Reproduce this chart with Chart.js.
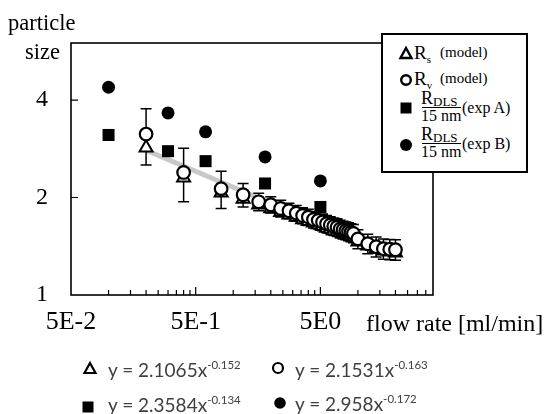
<!DOCTYPE html>
<html>
<head>
<meta charset="utf-8">
<script src="https://cdn.jsdelivr.net/npm/chart.js@4.4.1/dist/chart.umd.min.js"></script>
<style>
  html, body { margin: 0; padding: 0; background: #fff; }
  #wrap { position: relative; width: 547px; height: 414px; overflow: hidden; }
  .serif { position: absolute; font-family: 'Liberation Serif', 'Times New Roman', serif; color: #000; line-height: 1; white-space: nowrap; transform: translateY(-50%); }
  .eq { position: absolute; font-family: Lato, 'Open Sans', sans-serif; color: #404040; font-size: 19px; line-height: 1; white-space: nowrap; transform: translateY(-50%); }
  .eq sup { font-size: 11.5px; vertical-align: 0; position: relative; top: -8px; }
  .mk { position: absolute; overflow: visible; }
  #legendBox { position: absolute; left: 381px; top: 33px; width: 143px; height: 136px; border: 2px solid #000; background: #fff; }
  .fracline { position: absolute; height: 0; border-top: 1.3px solid #000; }
</style>
</head>
<body>
<div id="wrap">
  <canvas id="chart"></canvas>

  <!-- titles -->
  <div class="serif" style="left:8px;top:23px;font-size:22.5px">particle</div>
  <div class="serif" style="left:25px;top:52px;font-size:22.5px">size</div>
  <div class="serif" style="left:366px;top:323px;font-size:24px">flow rate [ml/min]</div>

  <!-- legend -->
  <div id="legendBox"></div>
  <svg class="mk" style="left:399px;top:46px" width="14" height="14"><polygon points="7,2 12.5,12 1.5,12" fill="#fff" stroke="#000" stroke-width="2.4"/></svg>
  <div class="serif" style="left:414px;top:52px;font-size:19px">R<span style="font-size:11px;position:relative;top:4px">s</span></div>
  <div class="serif" style="left:440px;top:52px;font-size:15px">(model)</div>

  <svg class="mk" style="left:399px;top:73px" width="14" height="14"><circle cx="7" cy="7" r="4.8" fill="#fff" stroke="#000" stroke-width="2.4"/></svg>
  <div class="serif" style="left:414px;top:78px;font-size:19px">R<span style="font-size:11px;position:relative;top:4px">v</span></div>
  <div class="serif" style="left:440px;top:78px;font-size:15px">(model)</div>

  <svg class="mk" style="left:400px;top:102px" width="12" height="12"><rect x="0.5" y="0.5" width="11" height="11" fill="#000"/></svg>
  <div class="serif" style="left:421px;top:98px;font-size:18px">R<span style="font-size:13px;position:relative;top:2px">DLS</span></div>
  <div class="fracline" style="left:422px;top:107px;width:39px"></div>
  <div class="serif" style="left:421px;top:116px;font-size:16px">15 nm</div>
  <div class="serif" style="left:462px;top:108px;font-size:16px">(exp A)</div>

  <svg class="mk" style="left:399px;top:138px" width="14" height="14"><circle cx="7" cy="7" r="6" fill="#000"/></svg>
  <div class="serif" style="left:421px;top:134px;font-size:18px">R<span style="font-size:13px;position:relative;top:2px">DLS</span></div>
  <div class="fracline" style="left:422px;top:143px;width:39px"></div>
  <div class="serif" style="left:421px;top:152px;font-size:16px">15 nm</div>
  <div class="serif" style="left:462px;top:144px;font-size:16px">(exp B)</div>

  <!-- fit equations -->
  <svg class="mk" style="left:83px;top:361px" width="14" height="14"><polygon points="7,2 12.5,12 1.5,12" fill="#fff" stroke="#000" stroke-width="2.2"/></svg>
  <div class="eq" style="left:108px;top:369px">y = 2.1065x<sup>-0.152</sup></div>
  <svg class="mk" style="left:271px;top:361px" width="14" height="14"><circle cx="7" cy="7" r="5" fill="#fff" stroke="#000" stroke-width="2.2"/></svg>
  <div class="eq" style="left:295px;top:369px">y = 2.1531x<sup>-0.163</sup></div>
  <svg class="mk" style="left:82px;top:401px" width="12" height="12"><rect x="0.5" y="0.5" width="11" height="11" fill="#000"/></svg>
  <div class="eq" style="left:108px;top:404px">y = 2.3584x<sup>-0.134</sup></div>
  <svg class="mk" style="left:273px;top:396px" width="14" height="14"><circle cx="7" cy="7" r="5.8" fill="#000"/></svg>
  <div class="eq" style="left:295px;top:403px">y = 2.958x<sup>-0.172</sup></div>
</div>

<script>
// model points (flow rate in ml/min, size relative to 15 nm)
const modelFlow = [0.2, 0.4, 0.8, 1.2, 1.6, 2.0, 2.4, 2.8, 3.2, 3.6, 4.0, 4.4, 4.8, 5.2, 5.6,
                   6.0, 6.4, 6.8, 7.2, 7.6, 8.0, 8.4, 8.8, 9.2, 10, 12, 14, 16, 18, 20];
const rvSize = [3.14, 2.39, 2.13, 2.04, 1.94, 1.90, 1.85, 1.82, 1.79, 1.76, 1.74, 1.71, 1.70, 1.68, 1.66,
                1.645, 1.63, 1.62, 1.60, 1.59, 1.58, 1.57, 1.56, 1.55, 1.49, 1.44, 1.41, 1.39, 1.385, 1.38];
const rvError = [0.62, 0.45, 0.28, 0.17, 0.12, 0.11, 0.11, 0.10, 0.10, 0.10, 0.10, 0.10, 0.10, 0.10, 0.10,
                 0.10, 0.10, 0.10, 0.10, 0.10, 0.10, 0.10, 0.10, 0.10, 0.10, 0.10, 0.10, 0.10, 0.10, 0.10];
const rsSize = [2.85, 2.30, 2.07, 1.98, 1.90, 1.85, 1.80, 1.77, 1.74, 1.71, 1.69, 1.67, 1.65, 1.63, 1.61,
                1.60, 1.58, 1.57, 1.56, 1.55, 1.54, 1.53, 1.52, 1.51, 1.46, 1.42, 1.39, 1.37, 1.36, 1.35];

// experiments
const expFlow = [0.1, 0.3, 0.6, 1.8, 5.0];
const expA = [3.12, 2.78, 2.59, 2.21, 1.87];
const expB = [4.38, 3.65, 3.19, 2.67, 2.25];

// gray trend line end points
const fitFlow = [0.2, 20];
const fitSize = [2.80, 1.32];

// axes
const xMajorTicks = [0.05, 0.5, 5];
const xTickLabels = ['5E-2', '5E-1', '5E0'];
const xMinorTicks = [0.1, 0.15, 0.2, 0.25, 0.3, 0.35, 0.4, 0.45,
                     1, 1.5, 2, 2.5, 3, 3.5, 4, 4.5,
                     10, 15, 20, 25, 30, 35];
const yTicks = [1, 2, 4];

const toPoints = (xs, ys) => xs.map((x, i) => ({ x, y: ys[i] }));

// рамка и внутренние засечки
const frameAndTicks = {
  id: 'frameAndTicks',
  beforeDatasetsDraw(chart) {
    const { ctx, chartArea: a, scales: { x, y } } = chart;
    ctx.save();
    ctx.strokeStyle = '#000';
    ctx.lineWidth = 1.6;
    ctx.strokeRect(a.left, a.top, a.width, a.height);
    ctx.lineWidth = 1.2;
    ctx.beginPath();
    xMinorTicks.forEach(v => {
      const px = x.getPixelForValue(v);
      ctx.moveTo(px, a.bottom);
      ctx.lineTo(px, a.bottom - 5);
    });
    xMajorTicks.slice(1).forEach(v => {
      const px = x.getPixelForValue(v);
      ctx.moveTo(px, a.bottom);
      ctx.lineTo(px, a.bottom - 8);
    });
    yTicks.slice(1).forEach(v => {
      const py = y.getPixelForValue(v);
      ctx.moveTo(a.left, py);
      ctx.lineTo(a.left + 7, py);
    });
    ctx.stroke();
    ctx.restore();
  }
};

// error bars for R_v, drawn right after the trend line
const errorBars = {
  id: 'errorBars',
  afterDatasetDraw(chart, args) {
    if (args.index !== 4) return;
    const { ctx, scales: { x, y } } = chart;
    ctx.save();
    ctx.strokeStyle = '#000';
    ctx.lineWidth = 1.5;
    ctx.beginPath();
    modelFlow.forEach((f, i) => {
      const px = x.getPixelForValue(f);
      const top = y.getPixelForValue(rvSize[i] + rvError[i]);
      const bot = y.getPixelForValue(rvSize[i] - rvError[i]);
      ctx.moveTo(px, top); ctx.lineTo(px, bot);
      ctx.moveTo(px - 5.5, top); ctx.lineTo(px + 5.5, top);
      ctx.moveTo(px - 5.5, bot); ctx.lineTo(px + 5.5, bot);
    });
    ctx.stroke();
    ctx.restore();
  }
};

const serifTicks = size => ({ family: "'Liberation Serif', 'Times New Roman', serif", size });

new Chart(document.getElementById('chart'), {
  type: 'scatter',
  data: {
    datasets: [
      { label: 'exp B', data: toPoints(expFlow, expB), pointStyle: 'circle', pointRadius: 6.5,
        backgroundColor: '#000', borderColor: '#000', borderWidth: 0 },
      { label: 'exp A', data: toPoints(expFlow, expA), pointStyle: 'rect', pointRadius: 8.5,
        backgroundColor: '#000', borderColor: '#000', borderWidth: 0 },
      { label: 'R_v', data: toPoints(modelFlow, rvSize), pointStyle: 'circle', pointRadius: 6.3,
        backgroundColor: '#fff', borderColor: '#000', borderWidth: 2.2 },
      { label: 'R_s', data: toPoints(modelFlow, rsSize), pointStyle: 'triangle', pointRadius: 7.5,
        backgroundColor: '#fff', borderColor: '#000', borderWidth: 2 },
      { label: 'fit', data: toPoints(fitFlow, fitSize), showLine: true, pointRadius: 0,
        borderColor: '#c8c8c8', borderWidth: 5 }
    ]
  },
  options: {
    responsive: true,
    maintainAspectRatio: false,
    animation: false,
    layout: { padding: { top: 43, right: 114, left: 0, bottom: 0 } },
    plugins: { legend: { display: false }, tooltip: { enabled: false } },
    scales: {
      x: {
        type: 'logarithmic', min: 0.05, max: 40,
        grid: { display: false, drawTicks: false },
        border: { display: false },
        afterBuildTicks: s => { s.ticks = xMajorTicks.map(v => ({ value: v })); },
        afterFit: s => { s.height = 119; },
        ticks: { callback: (v, i) => xTickLabels[i], font: serifTicks(26), color: '#000',
                 padding: 12, maxRotation: 0, autoSkip: false }
      },
      y: {
        type: 'logarithmic', min: 1, max: 6,
        grid: { display: false, drawTicks: false },
        border: { display: false },
        afterBuildTicks: s => { s.ticks = yTicks.map(v => ({ value: v })); },
        afterFit: s => { s.width = 71; },
        ticks: { callback: v => String(v), font: serifTicks(24), color: '#000', padding: 23, autoSkip: false }
      }
    }
  },
  plugins: [frameAndTicks, errorBars]
});
</script>
</body>
</html>
